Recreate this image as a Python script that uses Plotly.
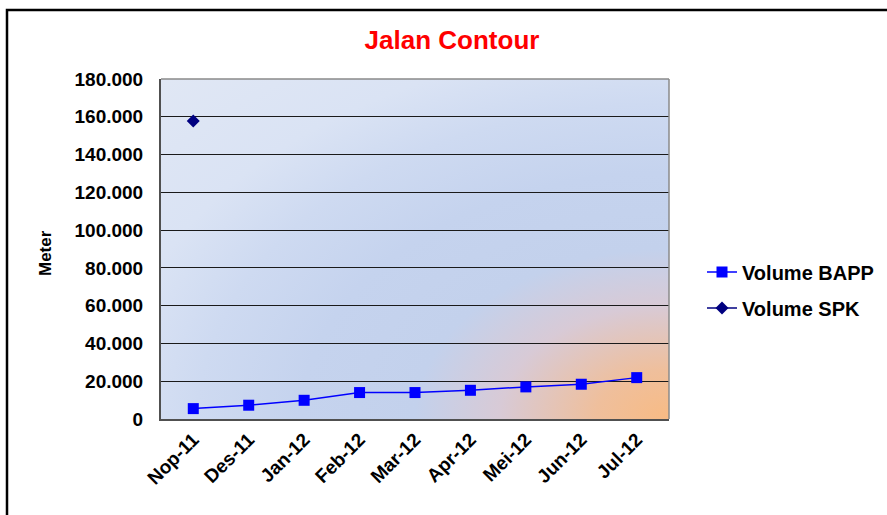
import base64
import plotly.graph_objects as go

# data (meters)
months = ["Nop-11", "Des-11", "Jan-12", "Feb-12", "Mar-12", "Apr-12", "Mei-12", "Jun-12", "Jul-12"]
volume_bapp = [5500, 7300, 9900, 14000, 14000, 15200, 17000, 18400, 21900]
volume_spk = [157700, None, None, None, None, None, None, None, None]
y_ticks = [0, 20000, 40000, 60000, 80000, 100000, 120000, 140000, 160000, 180000]

FONT = "Arial, Liberation Sans, sans-serif"

# page size and plot area corners in pixels
W, H = 887, 515
L, R, T, B = 161, 669, 79, 419

# radial gradient like the excel plot area fill, centred at bottom right corner
stops = [(0.0, "#f8bb84"), (0.10, "#efbf9c"), (0.23, "#d8cad6"), (0.345, "#c3d1ec"),
         (0.50, "#c5d3ee"), (0.64, "#cedaf1"), (0.76, "#dae3f4"), (0.97, "#e0e7f4")]
stop_tags = "".join(f"<stop offset='{o}' stop-color='{c}'/>" for o, c in stops)
svg = (f"<svg xmlns='http://www.w3.org/2000/svg' width='{R-L}' height='{B-T}' "
       f"viewBox='0 0 {R-L} {B-T}' preserveAspectRatio='none'>"
       f"<defs><radialGradient id='g' cx='1' cy='1' r='1.45'>{stop_tags}</radialGradient></defs>"
       f"<rect width='100%' height='100%' fill='url(#g)'/></svg>")
bg_src = "data:image/svg+xml;base64," + base64.b64encode(svg.encode()).decode()

fig = go.Figure()
fig.add_trace(go.Scatter(x=months, y=volume_bapp, name="<b>Volume BAPP</b>",
                         mode="lines+markers", legendgroup="a",
                         line=dict(color="#0000ff", width=1.5),
                         marker=dict(symbol="square", size=11, color="#0000ff")))
fig.add_trace(go.Scatter(x=months, y=volume_spk, name="<b>Volume SPK</b>",
                         mode="lines+markers", legendgroup="b",
                         line=dict(color="#000080", width=1.5),
                         marker=dict(symbol="diamond", size=10, color="#000080")))

px = lambda p: (p - L) / (R - L)
py = lambda p: (B - p) / (B - T)

fig.update_layout(
    width=W, height=H,
    margin=dict(l=L, r=W - R, t=T, b=H - B, autoexpand=False),
    paper_bgcolor="white", plot_bgcolor="rgba(0,0,0,0)",
    font=dict(family=FONT, color="black"),
    title=dict(text="<b>Jalan Contour</b>", x=452 / W, xref="container", xanchor="center",
               y=1 - 40 / H, yref="container", yanchor="middle",
               font=dict(size=26, color="#ff0000", family=FONT)),
    showlegend=True,
    legend=dict(x=px(702), xanchor="left", y=py(290), yanchor="middle",
                font=dict(size=20, family=FONT), tracegroupgap=7,
                bgcolor="rgba(0,0,0,0)"),
    hovermode=False,
    images=[dict(source=bg_src, xref="paper", yref="paper", x=0, y=1, sizex=1, sizey=1,
                 sizing="stretch", xanchor="left", yanchor="top", layer="below")],
)

# bold tick labels, "180.000" style
fig.update_xaxes(type="category", showgrid=False, tickangle=-45,
                 tickvals=months, ticktext=[f"<b>{m}</b>" for m in months],
                 tickfont=dict(size=19, family=FONT),
                 showline=True, linecolor="#505050", linewidth=2, ticks="", zeroline=False)
fig.update_yaxes(range=[0, 180000], tickvals=y_ticks,
                 ticktext=["<b>0</b>"] + [f"<b>{v // 1000}.000</b>" for v in y_ticks[1:]],
                 tickfont=dict(size=19, family=FONT), ticklabelstandoff=12,
                 showgrid=True, gridcolor="#1a1a1a", gridwidth=1,
                 showline=True, linecolor="#505050", linewidth=2, ticks="", zeroline=False)

# grey border on top and right of the plot area
fig.add_shape(type="line", xref="paper", yref="paper", x0=0, x1=1, y0=1, y1=1,
              line=dict(color="#8a8a8a", width=1.5))
fig.add_shape(type="line", xref="paper", yref="paper", x0=1, x1=1, y0=0, y1=1,
              line=dict(color="#8a8a8a", width=1.5))

# outer chart frame
fig.add_shape(type="rect", xref="paper", yref="paper",
              x0=px(7), x1=px(W + 20), y0=py(10), y1=py(H + 20),
              line=dict(color="black", width=2.5))

# y axis title
fig.add_annotation(text="<b>Meter</b>", xref="paper", yref="paper",
                   x=px(45), y=py(253), xanchor="center", yanchor="middle",
                   textangle=-90, showarrow=False,
                   font=dict(size=17, family=FONT))

# drop the default 8px body margin so the chart sits at the page corner
fig.write_html("out.html", config={"displayModeBar": False},
               post_script="document.body.style.margin='0';")
